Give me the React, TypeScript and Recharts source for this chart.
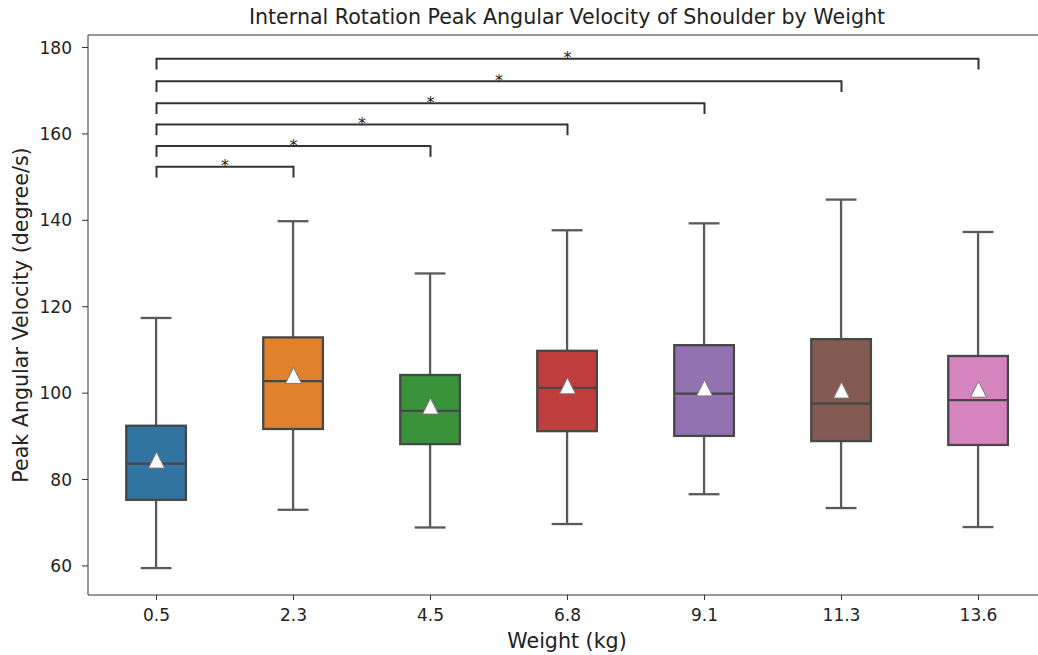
import { ComposedChart, Bar, Scatter, XAxis, YAxis, ReferenceLine } from 'recharts'

const weights = ['0.5', '2.3', '4.5', '6.8', '9.1', '11.3', '13.6']
const lowWhisker = [59.5, 73.0, 68.9, 69.7, 76.6, 73.4, 69.0]
const q1 = [75.3, 91.7, 88.2, 91.2, 90.1, 88.9, 88.0]
const medians = [83.7, 102.8, 95.9, 101.2, 99.9, 97.6, 98.4]
const q3 = [92.45, 112.9, 104.2, 109.8, 111.1, 112.5, 108.6]
const highWhisker = [117.4, 139.8, 127.7, 137.7, 139.3, 144.8, 137.3]
const means = [84.5, 104.1, 97.0, 101.7, 101.2, 100.7, 100.9]
const boxColors = ['#3274a1', '#e1812c', '#3a923a', '#c03d3e', '#9372b2', '#845b53', '#d684bd']

// significance brackets: all compared against 0.5 kg
const bracketTargets = [1, 2, 3, 4, 5, 6]
const bracketLevels = [152.4, 157.2, 162.2, 167.1, 172.2, 177.4]
const bracketDrop = 2.5

const yTicks = [60, 80, 100, 120, 140, 160, 180]
const yMin = 53.27
const yMax = 182.9

const LINE = '#5a5a5a'
const FONT = '"DejaVu Sans", sans-serif'

const data = weights.map((w, i) => ({
  idx: i,
  weight: w,
  box: [q1[i], q3[i]],
  lo: lowWhisker[i],
  hi: highWhisker[i],
  med: medians[i],
  mean: means[i],
  color: boxColors[i],
}))

const stars = bracketTargets.map((t, i) => ({ idx: t / 2, level: bracketLevels[i] }))

function BoxShape(props: any) {
  const { x, y, width, height, payload } = props
  const h = Math.abs(height)
  const top = Math.min(y, y + height)
  const [a, b] = payload.box
  const ppu = h / (b - a)
  const cx = x + width / 2
  const yHi = top - (payload.hi - b) * ppu
  const yLo = top + h + (a - payload.lo) * ppu
  const yMed = top + (b - payload.med) * ppu
  const cap = width / 4
  return (
    <g>
      <line x1={cx} x2={cx} y1={yHi} y2={top} stroke={LINE} strokeWidth={2.3} />
      <line x1={cx} x2={cx} y1={top + h} y2={yLo} stroke={LINE} strokeWidth={2.3} />
      <line x1={cx - cap} x2={cx + cap} y1={yHi} y2={yHi} stroke={LINE} strokeWidth={2.3} />
      <line x1={cx - cap} x2={cx + cap} y1={yLo} y2={yLo} stroke={LINE} strokeWidth={2.3} />
      <rect x={x + 1} y={top} width={width - 2} height={h} fill={payload.color} stroke="#474747" strokeWidth={2.3} />
      <line x1={x + 1} x2={x + width - 1} y1={yMed} y2={yMed} stroke="#474747" strokeWidth={2.3} />
    </g>
  )
}

function MeanMarker(props: any) {
  const { cx, cy } = props
  const s = 8
  return (
    <polygon
      points={`${cx},${cy - s} ${cx - s},${cy + s} ${cx + s},${cy + s}`}
      fill="#ffffff"
      stroke="#777"
      strokeWidth={1}
    />
  )
}

function Star(props: any) {
  const { cx, cy } = props
  return (
    <text x={cx} y={cy + 4.5} textAnchor="middle" fontFamily={FONT} fontSize={16} fill="#222">
      *
    </text>
  )
}

export default function App() {
  return (
    <div style={{ position: 'absolute', left: 0, top: 0, width: 1038, height: 655, overflow: 'hidden', background: '#fff' }}>
      <div style={{ position: 'absolute', left: 0, top: 0 }}>
        <ComposedChart width={1038} height={655} data={data} margin={{ top: 35, right: -9, bottom: 30, left: 8 }}>
          <XAxis
            type="number"
            dataKey="idx"
            domain={[-0.5, 6.5]}
            ticks={[0, 1, 2, 3, 4, 5, 6]}
            tickFormatter={(v: number) => weights[v]}
            height={30}
            stroke="#333"
            tickSize={5}
            tickMargin={8.5}
            tick={{ fill: '#222', fontSize: 17, fontFamily: FONT }}
            allowDataOverflow
            label={{
              content: () => (
                <text x={567} y={648} textAnchor="middle" fontFamily={FONT} fontSize={20.6} fill="#222">
                  Weight (kg)
                </text>
              ),
            }}
          />
          <YAxis
            type="number"
            domain={[yMin, yMax]}
            ticks={yTicks}
            width={80}
            stroke="#333"
            tickSize={6}
            tickMargin={10}
            tick={{ fill: '#222', fontSize: 17, fontFamily: FONT }}
            allowDataOverflow
            label={{
              content: () => (
                <text
                  x={28}
                  y={315}
                  transform="rotate(-90 28 315)"
                  textAnchor="middle"
                  fontFamily={FONT}
                  fontSize={20.6}
                  fill="#222"
                >
                  Peak Angular Velocity (degree/s)
                </text>
              ),
            }}
          />
          <ReferenceLine y={yMax} stroke="#333" strokeWidth={1.2} />
          <Bar dataKey="box" barSize={69} shape={BoxShape} isAnimationActive={false} />
          <Scatter dataKey="mean" shape={MeanMarker} isAnimationActive={false} />
          {bracketTargets.map((t, i) => (
            <ReferenceLine
              key={'h' + i}
              segment={[{ x: 0, y: bracketLevels[i] }, { x: t, y: bracketLevels[i] }]}
              stroke="#333"
              strokeWidth={2}
            />
          ))}
          {bracketTargets.map((t, i) => (
            <ReferenceLine
              key={'l' + i}
              segment={[{ x: 0, y: bracketLevels[i] + 0.2 }, { x: 0, y: bracketLevels[i] - bracketDrop }]}
              stroke="#333"
              strokeWidth={2}
            />
          ))}
          {bracketTargets.map((t, i) => (
            <ReferenceLine
              key={'r' + i}
              segment={[{ x: t, y: bracketLevels[i] + 0.2 }, { x: t, y: bracketLevels[i] - bracketDrop }]}
              stroke="#333"
              strokeWidth={2}
            />
          ))}
          <Scatter data={stars} dataKey="level" shape={Star} isAnimationActive={false} />
        </ComposedChart>
      </div>
      <svg width={1038} height={34} style={{ position: 'absolute', left: 0, top: 0, pointerEvents: 'none' }}>
        <text x={567} y={23.5} textAnchor="middle" fontFamily={FONT} fontSize={20.6} fill="#222">
          Internal Rotation Peak Angular Velocity of Shoulder by Weight
        </text>
      </svg>
    </div>
  )
}
